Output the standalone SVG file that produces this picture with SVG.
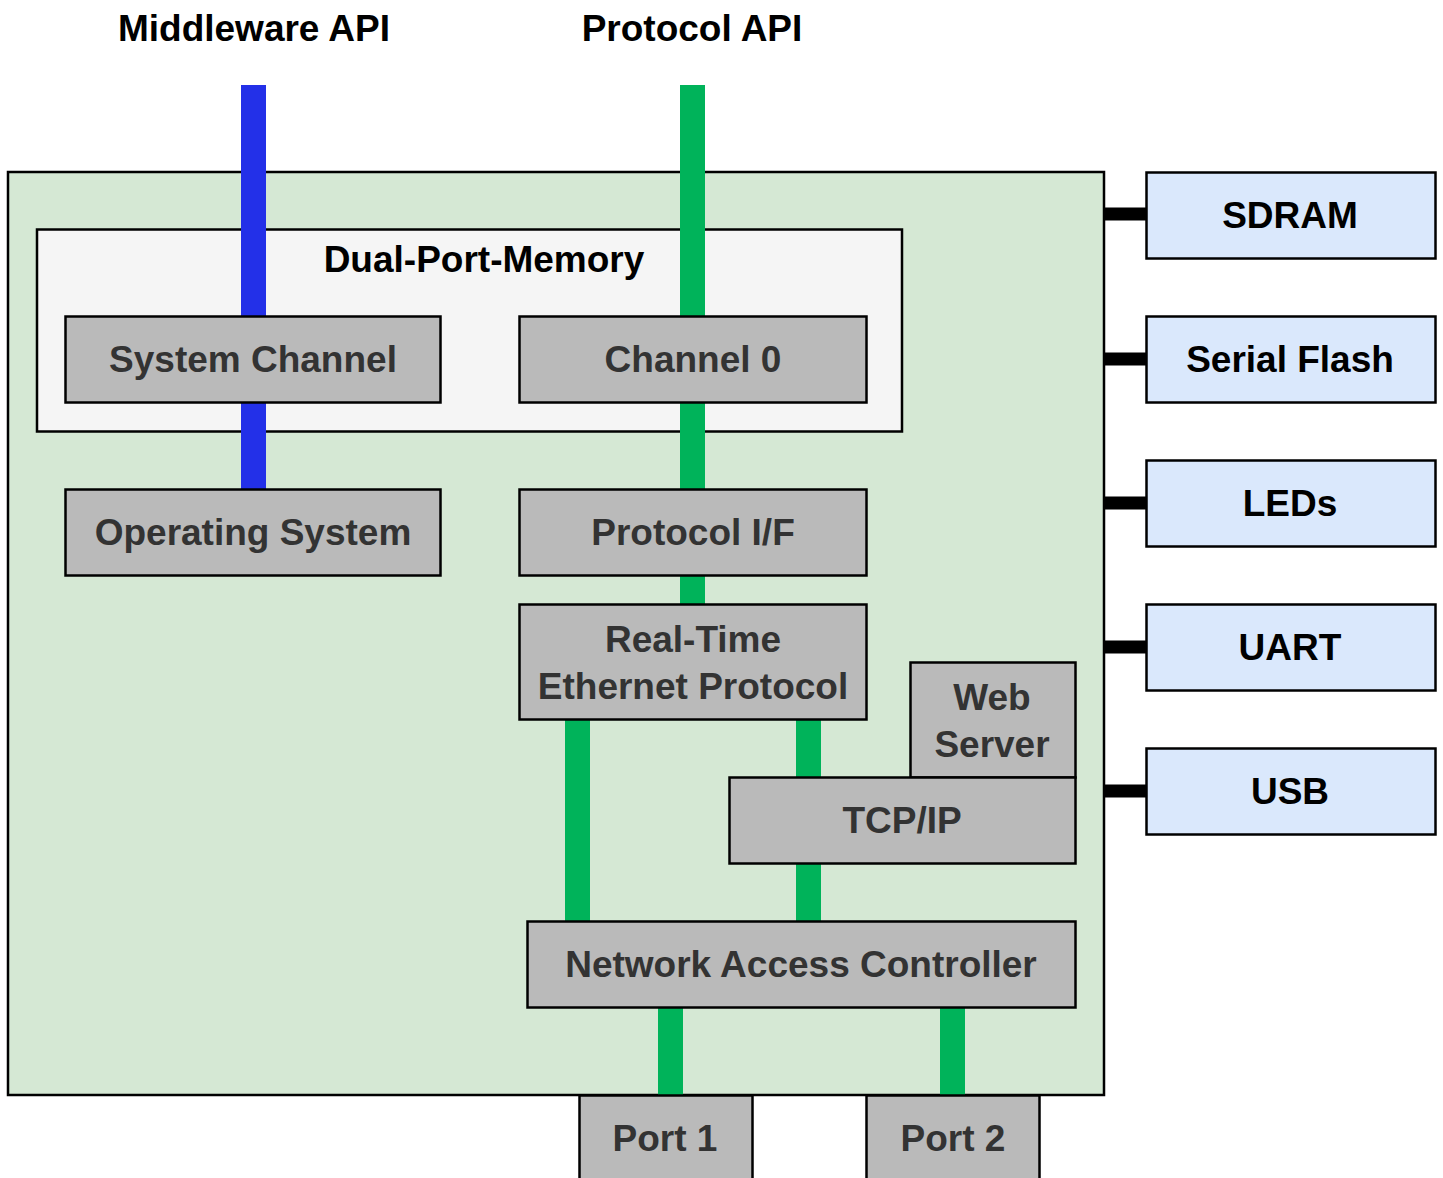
<svg xmlns="http://www.w3.org/2000/svg" width="1443" height="1178" viewBox="0 0 1443 1178">
<style>
text{font-family:"Liberation Sans",Arial,sans-serif;font-weight:bold;font-size:37px;text-anchor:middle}
.blk{fill:#000}
.dk{fill:#333333}
.box{fill:#bababa;stroke:#000;stroke-width:2.5}
.ext{fill:#dae8fc;stroke:#000;stroke-width:2.5}
.bl{fill:#2330e8}
.gr{fill:#00b35a}
.bk{fill:#000}
</style>
<rect width="1443" height="1178" fill="#fff"/>
<g id="device"><rect x="8" y="172" width="1096" height="923" fill="#d5e8d4" stroke="#000" stroke-width="2.5"/></g>
<g id="dual-port-memory"><rect x="37" y="229.5" width="865" height="202" fill="#f5f5f5" stroke="#000" stroke-width="2.5"/><text class="blk" x="484" y="272">Dual-Port-Memory</text></g>
<g id="api-labels"><text class="blk" x="254" y="41">Middleware API</text><text class="blk" x="692" y="41">Protocol API</text></g>
<g id="connectors">
<rect class="bl" x="241" y="85" width="25" height="404"/>
<rect class="gr" x="680" y="85" width="25" height="404"/>
<rect class="gr" x="680" y="575" width="25" height="29"/>
<rect class="gr" x="565" y="719" width="25" height="202"/>
<rect class="gr" x="796" y="719" width="25" height="202"/>
<rect class="gr" x="658" y="1007" width="25" height="88"/>
<rect class="gr" x="940" y="1007" width="25" height="88"/>
<rect class="bk" x="1104" y="207.5" width="42" height="13"/>
<rect class="bk" x="1104" y="352.5" width="42" height="13"/>
<rect class="bk" x="1104" y="496.5" width="42" height="13"/>
<rect class="bk" x="1104" y="640.5" width="42" height="13"/>
<rect class="bk" x="1104" y="784.5" width="42" height="13"/>
</g>
<g id="system-channel"><rect class="box" x="65.5" y="316.5" width="375" height="86"/><text class="dk" x="253" y="372">System Channel</text></g>
<g id="channel-0"><rect class="box" x="519.5" y="316.5" width="347" height="86"/><text class="dk" x="693" y="372">Channel 0</text></g>
<g id="operating-system"><rect class="box" x="65.5" y="489.5" width="375" height="86"/><text class="dk" x="253" y="545">Operating System</text></g>
<g id="protocol-if"><rect class="box" x="519.5" y="489.5" width="347" height="86"/><text class="dk" x="693" y="545">Protocol I/F</text></g>
<g id="rte-protocol"><rect class="box" x="519.5" y="604.5" width="347" height="115"/><text class="dk" x="693" y="652">Real-Time</text><text class="dk" x="693" y="699">Ethernet Protocol</text></g>
<g id="web-server"><rect class="box" x="910.5" y="662.5" width="165" height="115"/><text class="dk" x="992" y="710">Web</text><text class="dk" x="992" y="757">Server</text></g>
<g id="tcp-ip"><rect class="box" x="729.5" y="777.5" width="346" height="86"/><text class="dk" x="902" y="833">TCP/IP</text></g>
<g id="nac"><rect class="box" x="527.5" y="921.5" width="548" height="86"/><text class="dk" x="801" y="977">Network Access Controller</text></g>
<g id="port-1"><rect class="box" x="579.5" y="1095.5" width="173" height="100"/><text class="dk" x="665" y="1151">Port 1</text></g>
<g id="port-2"><rect class="box" x="866.5" y="1095.5" width="173" height="100"/><text class="dk" x="953" y="1151">Port 2</text></g>
<g id="sdram"><rect class="ext" x="1146.5" y="172.5" width="289" height="86"/><text class="blk" x="1290" y="228">SDRAM</text></g>
<g id="serial-flash"><rect class="ext" x="1146.5" y="316.5" width="289" height="86"/><text class="blk" x="1290" y="372">Serial Flash</text></g>
<g id="leds"><rect class="ext" x="1146.5" y="460.5" width="289" height="86"/><text class="blk" x="1290" y="516">LEDs</text></g>
<g id="uart"><rect class="ext" x="1146.5" y="604.5" width="289" height="86"/><text class="blk" x="1290" y="660">UART</text></g>
<g id="usb"><rect class="ext" x="1146.5" y="748.5" width="289" height="86"/><text class="blk" x="1290" y="804">USB</text></g>
</svg>
